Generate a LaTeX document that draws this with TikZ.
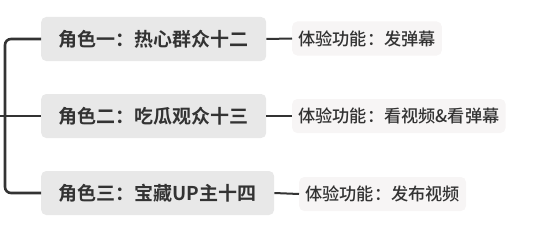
\documentclass[tikz,border=0pt]{standalone}
\usepackage{fontspec}
\newfontfamily\cjk{Noto Sans CJK SC Medium}
\newfontfamily\cjkbold{Noto Sans CJK SC Bold}
\definecolor{inkgray}{HTML}{333333}
\definecolor{rolefill}{HTML}{E8E8E8}
\definecolor{featfill}{HTML}{F7F5F5}
\tikzset{
  rolebox/.style={fill=rolefill, rounded corners=5pt, anchor=west, minimum height=44pt,
    inner xsep=17.5pt, text=inkgray, font=\cjkbold\fontsize{19}{21}\selectfont},
  featbox/.style={fill=featfill, rounded corners=5pt, anchor=west, minimum height=34pt,
    inner xsep=6pt, text=inkgray, font=\cjk\fontsize{17.2}{19}\selectfont},
  trunk/.style={draw=inkgray, line width=2.6pt, rounded corners=6pt},
  twig/.style={draw=inkgray, line width=2pt}
}
\begin{document}
\begin{tikzpicture}[x=1pt, y=-1pt]
  \useasboundingbox (0,0) rectangle (545,238);
  % roles
  \node[rolebox] (r1) at (41,39) {角色一：热心群众十二};
  \node[rolebox] (r2) at (41,116) {角色二：吃瓜观众十三};
  \node[rolebox] (r3) at (41,193) {角色三：宝藏UP主十四};
  % features
  \node[featbox] (f1) at (292,38.5) {体验功能：发弹幕};
  \node[featbox] (f2) at (292,116) {体验功能：看视频\&看弹幕};
  \node[featbox] (f3) at (299,194) {体验功能：发布视频};
  % tree
  \coordinate (root) at (0,116);
  \coordinate (spine) at (5,116);
  \draw[trunk] (r1.west) -| (spine) |- (r3.west);
  \draw[trunk] (root) -- (r2.west);
  \draw[twig] (r1.east) -- (f1.west);
  \draw[twig] (r2.east) -- (f2.west);
  \draw[twig] (r3.east) -- (f3.west);
\end{tikzpicture}
\end{document}
